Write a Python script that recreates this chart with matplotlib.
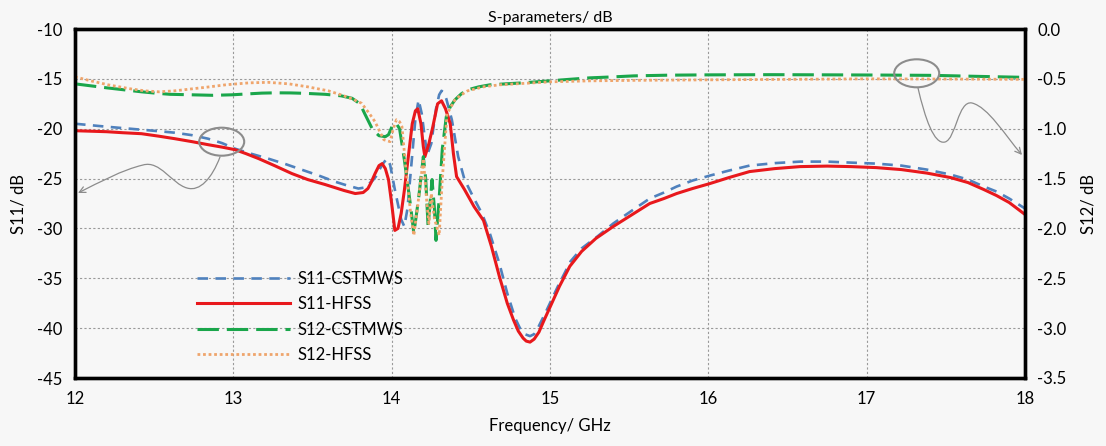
import matplotlib
matplotlib.use('Agg')
import matplotlib.pyplot as plt
from matplotlib.path import Path
from matplotlib.patches import Ellipse, FancyArrowPatch
import numpy as np

plt.rcParams['font.family'] = ['Lato', 'DejaVu Sans']
plt.rcParams['axes.unicode_minus'] = False

# S11 (left axis, dB)
f_s11_cst = [12.0, 12.1, 12.2, 12.31, 12.42, 12.53, 12.63, 12.74, 12.84, 12.93,
             13.01, 13.11, 13.22, 13.33, 13.43, 13.54, 13.64, 13.72, 13.79, 13.83,
             13.85, 13.88, 13.90, 13.94, 13.97, 13.99, 14.02, 14.06, 14.08, 14.10,
             14.125, 14.15, 14.17, 14.19, 14.21, 14.225, 14.25, 14.28, 14.30, 14.315,
             14.33, 14.345, 14.38, 14.42, 14.46, 14.52, 14.57, 14.62, 14.68, 14.73,
             14.78, 14.81, 14.84, 14.874, 14.90, 14.92, 14.97, 15.05, 15.13, 15.2,
             15.3, 15.4, 15.5, 15.63, 15.72, 15.8, 15.9, 16.01, 16.13, 16.26,
             16.42, 16.58, 16.75, 16.9, 17.06, 17.22, 17.38, 17.53, 17.64, 17.74,
             17.82, 17.9, 18.0]
s11_cst = [-19.5, -19.65, -19.8, -19.95, -20.1, -20.25, -20.4, -20.65, -21.0, -21.45,
           -22.0, -22.5, -23.0, -23.55, -24.1, -24.7, -25.3, -25.7, -26.0, -25.9,
           -25.6, -25.2, -24.8, -23.6, -23.0, -23.6, -26.1, -29.1, -29.8, -28.0,
           -23.5, -19.0, -17.1, -18.5, -21.0, -22.6, -21.5, -18.0, -16.6, -16.2,
           -16.4, -17.0, -19.1, -22.8, -25.1, -27.0, -28.5, -30.5, -33.5, -36.5,
           -39.0, -40.0, -40.6, -40.8, -40.6, -40.1, -38.5, -35.8, -33.3, -32.0,
           -30.8, -29.5, -28.4, -27.0, -26.4, -25.8, -25.2, -24.7, -24.2, -23.7,
           -23.45, -23.3, -23.3, -23.4, -23.5, -23.7, -24.1, -24.6, -25.1, -25.8,
           -26.3, -27.0, -28.0]

f_s11_hfss = [12.0, 12.1, 12.2, 12.3, 12.42, 12.53, 12.63, 12.74, 12.84, 12.93,
              13.01, 13.08, 13.16, 13.26, 13.37, 13.47, 13.58, 13.65, 13.70, 13.77,
              13.82, 13.85, 13.87, 13.895, 13.92, 13.94, 13.96, 13.98, 14.00, 14.02,
              14.04, 14.06, 14.08, 14.10, 14.13, 14.15, 14.165, 14.185, 14.20, 14.21,
              14.235, 14.26, 14.29, 14.315, 14.34, 14.37, 14.39, 14.41, 14.46, 14.52,
              14.58, 14.63, 14.68, 14.73, 14.77, 14.80, 14.83, 14.85, 14.874, 14.90,
              14.93, 14.96, 15.0, 15.06, 15.125, 15.2, 15.29, 15.4, 15.5, 15.63,
              15.72, 15.8, 15.9, 16.01, 16.13, 16.26, 16.42, 16.58, 16.75, 16.9,
              17.06, 17.22, 17.38, 17.53, 17.64, 17.74, 17.82, 17.9, 18.0]
s11_hfss = [-20.2, -20.25, -20.3, -20.4, -20.5, -20.75, -21.0, -21.3, -21.6, -21.85,
            -22.1, -22.5, -23.0, -23.7, -24.5, -25.1, -25.6, -25.95, -26.2, -26.5,
            -26.4, -26.0, -25.4, -24.5, -23.7, -23.5, -24.0, -25.1, -27.5, -30.2,
            -30.0, -28.5, -26.2, -23.5, -19.5, -18.2, -18.0, -19.5, -21.8, -22.8,
            -21.5, -19.8, -17.5, -17.2, -18.0, -19.5, -22.5, -24.8, -26.1, -27.8,
            -29.2, -31.8, -34.8, -37.5, -39.2, -40.3, -41.0, -41.3, -41.4, -41.1,
            -40.4, -39.3, -37.9, -35.8, -33.8, -32.3, -31.0, -29.8, -28.8, -27.5,
            -27.0, -26.5, -26.0, -25.5, -24.9, -24.3, -24.0, -23.8, -23.75, -23.8,
            -23.9, -24.1, -24.45, -24.9, -25.4, -26.1, -26.7, -27.4, -28.6]

# S12 (right axis, dB)
f_s12_cst = [12.0, 12.1, 12.2, 12.31, 12.42, 12.52, 12.6, 12.74, 12.87, 12.99,
             13.1, 13.18, 13.27, 13.36, 13.45, 13.58, 13.68, 13.75, 13.80, 13.83,
             13.88, 13.92, 13.96, 13.98, 14.01, 14.03, 14.05, 14.08, 14.12, 14.14,
             14.17, 14.20, 14.215, 14.23, 14.245, 14.255, 14.27, 14.28, 14.30, 14.32,
             14.345, 14.37, 14.40, 14.44, 14.48, 14.55, 14.62, 14.72, 14.83, 15.0,
             15.12, 15.25, 15.4, 15.53, 15.75, 15.99, 16.4, 16.79, 17.1, 17.42,
             17.7, 18.0]
s12_cst = [-0.55, -0.57, -0.59, -0.61, -0.63, -0.645, -0.655, -0.66, -0.665, -0.66,
           -0.65, -0.643, -0.64, -0.641, -0.645, -0.655, -0.67, -0.695, -0.75, -0.85,
           -1.01, -1.07, -1.08, -1.06, -0.95, -0.95, -1.0, -1.31, -1.78, -2.05,
           -1.7, -1.28, -1.5, -1.98, -1.7, -1.51, -1.8, -2.12, -1.7, -1.2,
           -0.88, -0.78, -0.71, -0.65, -0.61, -0.58, -0.56, -0.55, -0.54, -0.52,
           -0.505, -0.49, -0.48, -0.47, -0.463, -0.46, -0.458, -0.46, -0.462, -0.465,
           -0.475, -0.485]

f_s12_hfss = [12.0, 12.1, 12.21, 12.35, 12.44, 12.53, 12.63, 12.74, 12.85, 12.95,
              13.1, 13.22, 13.35, 13.47, 13.6, 13.68, 13.75, 13.81, 13.86, 13.895,
              13.95, 13.99, 14.01, 14.03, 14.05, 14.065, 14.09, 14.12, 14.14, 14.17,
              14.20, 14.22, 14.235, 14.25, 14.27, 14.30, 14.32, 14.35, 14.40, 14.44,
              14.48, 14.58, 14.68, 14.84, 15.0, 15.25, 15.53, 15.99, 16.5, 17.0,
              17.5, 18.0]
s12_hfss = [-0.48, -0.52, -0.56, -0.6, -0.62, -0.63, -0.62, -0.6, -0.58, -0.56,
            -0.54, -0.535, -0.55, -0.58, -0.62, -0.66, -0.7, -0.745, -0.85, -0.93,
            -1.11, -1.13, -1.0, -0.91, -0.93, -0.98, -1.4, -1.85, -2.07, -1.7,
            -1.3, -1.7, -1.95, -1.65, -1.9, -2.07, -1.5, -0.85, -0.71, -0.66,
            -0.62, -0.58, -0.56, -0.545, -0.53, -0.52, -0.515, -0.51, -0.505, -0.50,
            -0.502, -0.505]

bg = '#f7f7f7'
fig = plt.figure(figsize=(11.06, 4.46), dpi=100, facecolor=bg)
ax = fig.add_axes([75/1106, 1 - 378/446, 950/1106, 349/446])
ax.set_facecolor(bg)
ax2 = ax.twinx()

l1, = ax.plot(f_s11_cst, s11_cst, color='#4f81bd', lw=1.9, dashes=(4, 2.8),
              label='S11-CSTMWS', dash_joinstyle='round')
l2, = ax.plot(f_s11_hfss, s11_hfss, color='#e8181c', lw=2.2, label='S11-HFSS',
              solid_joinstyle='round')
l3, = ax2.plot(f_s12_cst, s12_cst, color='#1aa64b', lw=2.2, dashes=(7, 2.6),
               label='S12-CSTMWS', dash_joinstyle='round')
l4, = ax2.plot(f_s12_hfss, s12_hfss, color='#efa56c', lw=2.0, dashes=(1, 1),
               label='S12-HFSS')

ax.set_xlim(12, 18)
ax.set_ylim(-45, -10)
ax2.set_ylim(-3.5, 0)
ax.set_xticks(np.arange(12, 19, 1))
ax.set_yticks(np.arange(-45, -9, 5))
ax2.set_yticks(np.arange(-3.5, 0.01, 0.5))
ax2.set_yticklabels(['%.1f' % v for v in np.arange(-3.5, 0.01, 0.5)])

ax.grid(True, color='#9a9a9a', lw=0.8, dashes=(2, 2))
ax.tick_params(length=0, labelsize=12, pad=9)
ax2.tick_params(length=0, labelsize=12, pad=9)
for a in (ax, ax2):
    for s in a.spines.values():
        s.set_linewidth(2.4)
        s.set_color('black')

ax.set_title('S-parameters/ dB', fontsize=11.5, pad=5)
ax.set_xlabel('Frequency/ GHz', fontsize=12, labelpad=8)
ax.set_ylabel('S11/ dB', fontsize=12, labelpad=8)
ax2.set_ylabel('S12/ dB', fontsize=12, labelpad=10, rotation=90)

leg = ax2.legend(handles=[l1, l2, l3, l4], loc='upper left',
                 bbox_to_anchor=(0.128, 0.307), frameon=False, fontsize=12,
                 handlelength=5.6, handletextpad=0.45, labelspacing=0.56,
                 borderpad=0, borderaxespad=0)

# annotation ellipses and wavy arrows (axes fraction coords from pixels)
def px(x, y):
    return ((x - 75) / 950, (378 - y) / 349)

for cx, cy in [(221.7, 141.7), (916.7, 73.3)]:
    e = Ellipse(px(cx, cy), 45 / 950, 28 / 349, transform=ax.transAxes,
                fill=False, edgecolor='#8c8c8c', lw=1.5, zorder=5)
    ax2.add_patch(e)

arrows = [
    [(220, 157), (212, 178), (200, 192), (187, 188), (172, 184), (160, 160),
     (143, 165), (122, 170), (100, 182), (78, 193)],
    [(918, 88), (925, 118), (934, 145), (945, 142), (956, 139), (958, 100),
     (972, 103), (988, 107), (1005, 135), (1022, 155)],
]
for pts in arrows:
    verts = [px(x, y) for x, y in pts]
    codes = [Path.MOVETO] + [Path.CURVE4] * 9
    arr = FancyArrowPatch(path=Path(verts, codes), arrowstyle='->',
                          mutation_scale=11, color='#8c8c8c', lw=0.9,
                          transform=ax.transAxes, zorder=5)
    ax2.add_patch(arr)

fig.savefig('out.png', dpi=100, facecolor=bg)
